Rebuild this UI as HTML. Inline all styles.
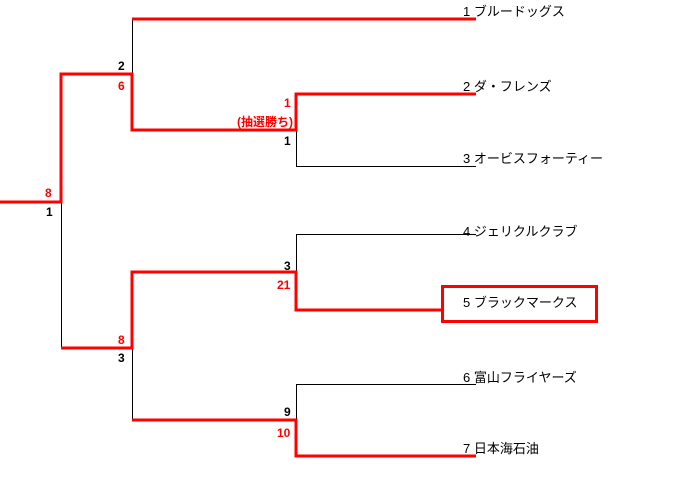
<!DOCTYPE html>
<html><head><meta charset="utf-8"><style>
body{margin:0;background:#fff;width:685px;height:476px;overflow:hidden}
svg text{font-family:"Liberation Sans","Noto Sans CJK JP",sans-serif;font-size:12px}
.b{font-weight:bold}
svg .t text{font-size:13px}
</style></head><body>
<svg width="685" height="476" xmlns="http://www.w3.org/2000/svg">
<g stroke="#000" stroke-width="1" fill="none">
<line x1="132.5" y1="19" x2="132.5" y2="74"/>
<line x1="296.5" y1="130" x2="296.5" y2="166"/>
<line x1="296" y1="166.5" x2="476" y2="166.5"/>
<line x1="61.5" y1="202" x2="61.5" y2="348"/>
<line x1="296.5" y1="234" x2="296.5" y2="272"/>
<line x1="296" y1="234.5" x2="476" y2="234.5"/>
<line x1="132.5" y1="348" x2="132.5" y2="420"/>
<line x1="296.5" y1="384" x2="296.5" y2="420"/>
<line x1="296" y1="384.5" x2="476" y2="384.5"/>
</g>
<g stroke="#f00" stroke-width="3" fill="none">
<polyline points="476,19 132,19"/>
<polyline points="0,202 61,202 61,74 132,74 132,130 296,130 296,94 476,94"/>
<polyline points="61,348 132,348 132,272 296,272 296,310 442,310"/>
<polyline points="132,420 296,420 296,456 476,456"/>
<rect x="442.5" y="286.5" width="154" height="35"/>
</g>
<g class="b">
<text x="118" y="70">2</text>
<text x="118" y="90" fill="#f00">6</text>
<text x="45" y="197" fill="#f00">8</text>
<text x="46" y="216">1</text>
<text x="284" y="107" fill="#f00">1</text>
<text x="293" y="126" fill="#f00" text-anchor="end">(抽選勝ち)</text>
<text x="284" y="145">1</text>
<text x="284" y="270">3</text>
<text x="277" y="289" fill="#f00">21</text>
<text x="118" y="344" fill="#f00">8</text>
<text x="118" y="362">3</text>
<text x="284" y="416">9</text>
<text x="277" y="437" fill="#f00">10</text>
</g>
<g class="t">
<text x="463" y="16">1 ブルードッグス</text>
<text x="463" y="91">2 ダ・フレンズ</text>
<text x="463" y="163">3 オービスフォーティー</text>
<text x="463" y="236">4 ジェリクルクラブ</text>
<text x="463" y="307">5 ブラックマークス</text>
<text x="463" y="382">6 富山フライヤーズ</text>
<text x="463" y="453">7 日本海石油</text>
</g>
</svg>
</body></html>
